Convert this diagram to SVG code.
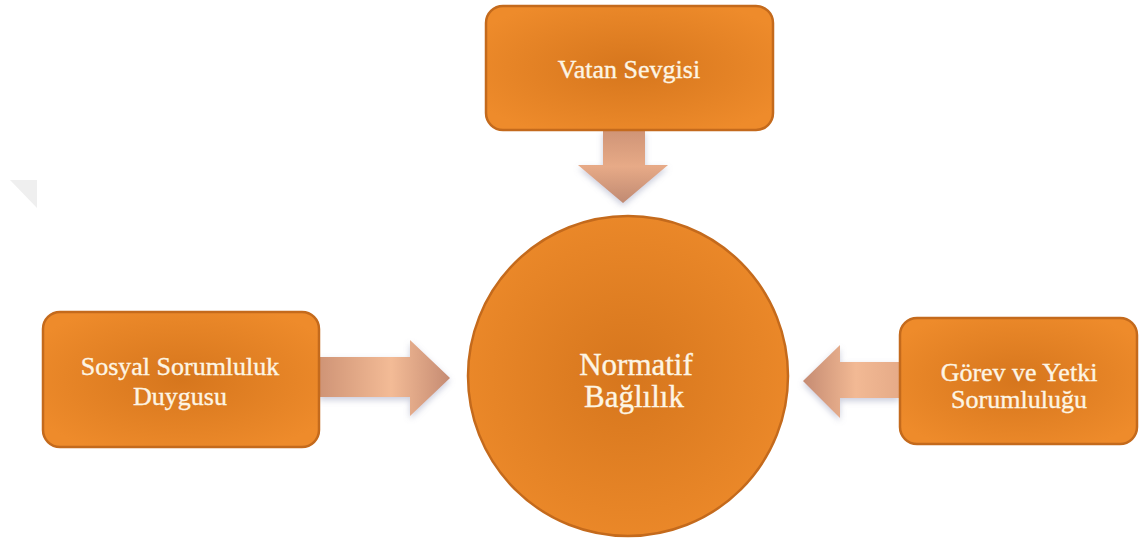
<svg xmlns="http://www.w3.org/2000/svg" width="1140" height="543" viewBox="0 0 1140 543">
<style>
.node{fill:url(#og);stroke:#c46a1c;stroke-width:2.5}
.lbl{font-family:'Liberation Serif','DejaVu Serif',serif;fill:#fdf5e4;stroke:#fdf5e4;stroke-width:0.35;text-anchor:middle;font-size:26px}
.big{font-size:31px}
.arr{filter:url(#sh)}
</style>
<defs>
<radialGradient id="og" cx="50%" cy="50%" r="60%">
<stop offset="0" stop-color="#d6761d"/>
<stop offset="1" stop-color="#ee8b2b"/>
</radialGradient>
<linearGradient id="ah" x1="0" y1="0" x2="1" y2="0">
<stop offset="0" stop-color="#cf9476"/>
<stop offset="0.55" stop-color="#f3bb96"/>
<stop offset="1" stop-color="#c58b72"/>
</linearGradient>
<linearGradient id="ahr" x1="1" y1="0" x2="0" y2="0">
<stop offset="0" stop-color="#e6ab88"/>
<stop offset="0.45" stop-color="#f2b994"/>
<stop offset="1" stop-color="#c58b72"/>
</linearGradient>
<linearGradient id="av" x1="0" y1="0" x2="0" y2="1">
<stop offset="0" stop-color="#cf9476"/>
<stop offset="0.5" stop-color="#e7aa87"/>
<stop offset="1" stop-color="#c08a72"/>
</linearGradient>
<filter id="sh" x="-20%" y="-20%" width="140%" height="150%">
<feGaussianBlur in="SourceAlpha" stdDeviation="3"/>
<feOffset dx="0" dy="3" result="b"/>
<feFlood flood-color="#8a8fb0" flood-opacity="0.45"/>
<feComposite in2="b" operator="in"/>
<feMerge><feMergeNode/><feMergeNode in="SourceGraphic"/></feMerge>
</filter>
</defs>
<polygon points="10,180 37,180 37,208" fill="#efefef"/>
<g id="connectors">
<polygon class="arr" fill="url(#av)" points="603,130 645,130 645,165 668,165 623,203 578,165 603,165"/>
<polygon class="arr" fill="url(#ah)" points="319,357 410,357 410,340 450,378 410,416 410,397 319,397"/>
<polygon class="arr" fill="url(#ahr)" points="899,362 840,362 840,345 803,381 840,418 840,398 899,398"/>
</g>
<g id="vatan">
<rect class="node" x="486" y="6" width="287" height="124" rx="17"/>
<text class="lbl" x="629" y="78">Vatan Sevgisi</text>
</g>
<g id="sosyal">
<rect class="node" x="43" y="312" width="276" height="135" rx="17"/>
<text class="lbl" x="180" y="375">Sosyal Sorumluluk</text>
<text class="lbl" x="180" y="405">Duygusu</text>
</g>
<g id="gorev">
<rect class="node" x="900" y="318" width="237" height="126" rx="17"/>
<text class="lbl" x="1019" y="381">Görev ve Yetki</text>
<text class="lbl" x="1019" y="408">Sorumluluğu</text>
</g>
<g id="normatif">
<circle class="node" cx="628" cy="376" r="160"/>
<text class="lbl big" x="636" y="375">Normatif</text>
<text class="lbl big" x="634" y="407">Bağlılık</text>
</g>
</svg>
